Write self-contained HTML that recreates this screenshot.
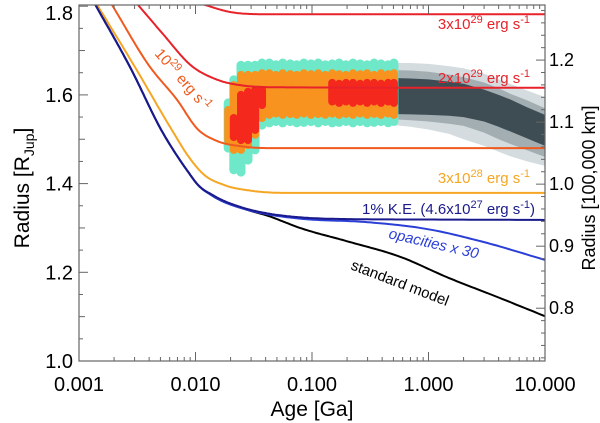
<!DOCTYPE html>
<html><head><meta charset="utf-8"><style>
html,body{margin:0;padding:0;background:#fff;}
svg{display:block;font-family:"Liberation Sans",sans-serif;}
</style></head><body>
<svg id="chart" width="600" height="423" viewBox="0 0 600 423" xmlns="http://www.w3.org/2000/svg">
<g id="bands"></g>
<g id="curves"></g>
<g id="axes"></g>
<g id="labels">
  <text x="530" y="29" text-anchor="end" fill="#e8222a" font-size="15">3x10<tspan dy="-6" font-size="11">29</tspan><tspan dy="6"> erg s</tspan><tspan dy="-6" font-size="11">-1</tspan></text>
  <text x="530" y="83" text-anchor="end" fill="#e8222a" font-size="15">2x10<tspan dy="-6" font-size="11">29</tspan><tspan dy="6"> erg s</tspan><tspan dy="-6" font-size="11">-1</tspan></text>
  <text x="530" y="183" text-anchor="end" fill="#f6a623" font-size="15">3x10<tspan dy="-6" font-size="11">28</tspan><tspan dy="6"> erg s</tspan><tspan dy="-6" font-size="11">-1</tspan></text>
  <text x="535" y="214" text-anchor="end" fill="#1a1a8c" font-size="15">1% K.E. (4.6x10<tspan dy="-6" font-size="11">27</tspan><tspan dy="6"> erg s</tspan><tspan dy="-6" font-size="11">-1</tspan><tspan dy="6">)</tspan></text>
  <text x="0" y="0" fill="#2b3fd6" font-size="15" font-style="italic" transform="translate(388,238) rotate(13)">opacities x 30</text>
  <text x="0" y="0" fill="#000" font-size="15" transform="translate(350,269) rotate(21)">standard model</text>
  <text x="0" y="0" fill="#f05a1e" font-size="15" transform="translate(154,54) rotate(49)">10<tspan dy="-6" font-size="11">29</tspan><tspan dy="6"> erg s</tspan><tspan dy="-6" font-size="11">-1</tspan></text>
</g>
<text x="312" y="416" text-anchor="middle" font-size="21">Age [Ga]</text>
<text transform="translate(29,188) rotate(-90)" text-anchor="middle" font-size="21">Radius [R<tspan dy="5" font-size="14">Jup</tspan><tspan dy="-5">]</tspan></text>
<text transform="translate(595,188) rotate(-90)" text-anchor="middle" font-size="18">Radius [100,000 km]</text>
</svg>
<script>
// ---- data ----
const stdAges = [0.00137,0.00274,0.00526,0.00846,0.0105,0.0141,0.0277,0.0411,0.0789,0.2,0.57,1.5,4.1,10];
const stdR    = [1.805,1.663,1.514,1.430,1.397,1.372,1.341,1.328,1.300,1.270,1.235,1.187,1.142,1.101];
const keAges  = [0.00137,0.00274,0.00526,0.00846,0.0105,0.0141,0.0277,0.0411,0.0789,0.2,1,10];
const keR     = [1.805,1.663,1.514,1.430,1.397,1.374,1.343,1.333,1.324,1.320,1.319,1.318];
const opAges  = [0.00137,0.00274,0.00526,0.00846,0.0105,0.0141,0.0277,0.0411,0.0789,0.3,1,3,10];
const opR     = [1.805,1.663,1.514,1.430,1.397,1.372,1.341,1.331,1.321,1.313,1.297,1.268,1.228];
const e28Ages = [0.00143,0.00302,0.0063,0.0085,0.0115,0.018,0.03,0.06,10];
const e28R    = [1.803,1.663,1.520,1.465,1.423,1.396,1.384,1.379,1.379];
const e29Ages = [0.00192,0.00407,0.00694,0.0105,0.015,0.025,0.045,10];
const e29R    = [1.803,1.663,1.589,1.522,1.497,1.484,1.480,1.480];
const e29bAges= [0.00321,0.00515,0.0095,0.0141,0.024,0.06,10];
const e29bR   = [1.803,1.740,1.663,1.638,1.622,1.617,1.616];
const e29cAges= [0.0113,0.0198,0.038,10];
const e29cR   = [1.805,1.787,1.782,1.782];

const colAges  = [0.0191,0.0213,0.0246,0.0282,0.0325,0.0372,0.043,0.049,0.056,0.065,0.074,0.085,0.098,0.113,0.130,0.149,0.171,0.196,0.225,0.259,0.297,0.341,0.391,0.45,0.505];
const cyanHi   = [1.582,1.634,1.667,1.667,1.667,1.672,1.672,1.668,1.672,1.670,1.668,1.672,1.670,1.672,1.668,1.670,1.672,1.668,1.672,1.670,1.668,1.672,1.670,1.668,1.672];
const cyanLo   = [1.480,1.431,1.426,1.453,1.476,1.532,1.537,1.540,1.537,1.540,1.537,1.538,1.540,1.537,1.540,1.537,1.538,1.540,1.537,1.540,1.537,1.538,1.540,1.537,1.540];
const orHi     = [1.566,1.622,1.645,1.645,1.645,1.649,1.649,1.645,1.649,1.647,1.645,1.649,1.647,1.649,1.645,1.649,1.647,1.645,1.649,1.647,1.649,1.645,1.649,1.647,1.649];
const orLo     = [1.498,1.476,1.476,1.487,1.510,1.548,1.555,1.558,1.555,1.557,1.555,1.558,1.555,1.557,1.555,1.558,1.555,1.557,1.555,1.558,1.555,1.557,1.555,1.558,1.555];
const redHi    = [null,1.548,1.600,1.607,1.611,1.611,null,null,null,null,null,null,null,null,null,1.627,1.625,1.627,1.627,1.625,1.627,1.627,1.625,1.627,1.627];
const redLo    = [null,1.505,1.498,1.498,1.521,1.577,null,null,null,null,null,null,null,null,null,1.585,1.582,1.585,1.582,1.585,1.582,1.585,1.582,1.585,1.582];

const greyAges = [0.5,0.7,1,1.5,2,3,4,5,7,10];
const lightHi  = [1.672,1.672,1.670,1.665,1.660,1.648,1.635,1.625,1.610,1.595];
const lightLo  = [1.532,1.528,1.522,1.512,1.500,1.485,1.472,1.462,1.450,1.440];
const midHi    = [1.656,1.655,1.652,1.646,1.640,1.628,1.615,1.603,1.588,1.570];
const midLo    = [1.545,1.543,1.540,1.535,1.530,1.515,1.500,1.490,1.475,1.460];
const darkHi   = [1.638,1.637,1.635,1.630,1.625,1.612,1.600,1.590,1.572,1.555];
const darkLo   = [1.557,1.556,1.555,1.553,1.550,1.540,1.528,1.518,1.502,1.485];

const yTicksLeft  = ["1.0","1.2","1.4","1.6","1.8"];
const yTicksRight = ["0.8","0.9","1.0","1.1","1.2"];
const xTicks      = ["0.001","0.010","0.100","1.000","10.000"];

// ---- axes functions ----
const X0=79, X1=545, Y0=5, Y1=361;
const xs = a => X0 + (Math.log10(a)+3)*(X1-X0)/4;
const ys = r => Y1 - (r-1)*(Y1-Y0)/0.8027;
const NS="http://www.w3.org/2000/svg";
function mk(tag, attrs, parent){const e=document.createElementNS(NS,tag);for(const k in attrs)e.setAttribute(k,attrs[k]);parent.appendChild(e);return e;}

const defs=mk('defs',{},document.getElementById('chart'));
const cp=mk('clipPath',{id:'plotclip'},defs);
mk('rect',{x:X0,y:Y0,width:X1-X0,height:Y1-Y0},cp);
document.getElementById('bands').setAttribute('clip-path','url(#plotclip)');
document.getElementById('curves').setAttribute('clip-path','url(#plotclip)');

// bands
const bands=document.getElementById('bands');
function areaPath(ages,hi,lo){
  let d='';
  ages.forEach((a,i)=>{d+=(i?'L':'M')+xs(a).toFixed(1)+','+ys(hi[i]).toFixed(1);});
  for(let i=ages.length-1;i>=0;i--) d+='L'+xs(ages[i]).toFixed(1)+','+ys(lo[i]).toFixed(1);
  return d+'Z';
}
[[lightHi,lightLo,'#d5dcdf','grey-light'],[midHi,midLo,'#a3aeb3','grey-mid'],[darkHi,darkLo,'#3e4d54','grey-dark']].forEach(b=>{
  const p=mk('path',{d:areaPath(greyAges,b[0],b[1]),fill:b[2]},bands);
  
  
});
function column(a,hi,lo,fill,w,name){
  const x=xs(a), yt=ys(hi), yb=ys(lo);
  const r=mk('rect',{x:(x-w/2).toFixed(1),y:(yt-w/2).toFixed(1),width:w,height:(yb-yt+w).toFixed(1),rx:w/2,fill:fill},bands);
  
  
}
colAges.forEach((a,i)=>column(a,cyanHi[i],cyanLo[i],'#6ee8c8',9,'cyan-column'));
colAges.forEach((a,i)=>column(a,orHi[i],orLo[i],'#f7931e',8,'orange-column'));
colAges.forEach((a,i)=>{ if(redHi[i]!==null) column(a,redHi[i],redLo[i],'#f5281e',8,'red-column'); });

// curves (monotone cubic in log-age)
function curvePath(ages,R){
  const xsArr=ages.map(a=>Math.log10(a)), n=xsArr.length;
  const h=[],m=[];
  for(let i=0;i<n-1;i++){h.push(xsArr[i+1]-xsArr[i]);m.push((R[i+1]-R[i])/h[i]);}
  const t=[m[0]];
  for(let i=1;i<n-1;i++){ t.push(m[i-1]*m[i]<=0?0:(m[i-1]*h[i]+m[i]*h[i-1])/(h[i]+h[i-1])); }
  t.push(m[n-2]);
  for(let i=0;i<n-1;i++){ if(m[i]===0){t[i]=0;t[i+1]=0;continue;} const a=t[i]/m[i],b=t[i+1]/m[i],s=a*a+b*b; if(s>9){const k=3/Math.sqrt(s);t[i]=k*a*m[i];t[i+1]=k*b*m[i];} }
  let d='';
  for(let i=0;i<n-1;i++){
    for(let j=0;j<=20;j++){
      if(i>0&&j===0)continue;
      const s=j/20, hh=h[i];
      const h00=2*s*s*s-3*s*s+1,h10=s*s*s-2*s*s+s,h01=-2*s*s*s+3*s*s,h11=s*s*s-s*s;
      const r=h00*R[i]+h10*hh*t[i]+h01*R[i+1]+h11*hh*t[i+1];
      const lx=xsArr[i]+s*hh;
      const px=X0+(lx+3)*(X1-X0)/4;
      d+=(d?'L':'M')+px.toFixed(1)+','+ys(r).toFixed(1);
    }
  }
  return d;
}
const curves=document.getElementById('curves');
[[e29cAges,e29cR,'#e8222a','curve-3e29'],[e29bAges,e29bR,'#e8222a','curve-2e29'],[e29Ages,e29R,'#f05a1e','curve-1e29'],[e28Ages,e28R,'#f6a623','curve-3e28'],
 [stdAges,stdR,'#000000','curve-standard-model'],[opAges,opR,'#2b3fd6','curve-opacities-x30'],[keAges,keR,'#1a1a8c','curve-1pct-ke']].forEach(c=>{
  const p=mk('path',{d:curvePath(c[0],c[1]),fill:'none',stroke:c[2],'stroke-width':2},curves);
  
  
});

// axes
const ax=document.getElementById('axes');
mk('rect',{x:X0,y:Y0,width:X1-X0,height:Y1-Y0,fill:'none',stroke:'#666','stroke-width':1.2},ax);
for(let k=0;k<=16;k++){
  const r=1+k*0.05, y=ys(r), L=(k%4===0)?9:(k%2===0?6:4);
  mk('line',{x1:X0,y1:y,x2:X0+L,y2:y,stroke:'#666','stroke-width':1},ax);
}
yTicksLeft.forEach(lbl=>{
  const t=mk('text',{x:X0-6,y:Math.max(ys(parseFloat(lbl))+7,20),'text-anchor':'end','font-size':20},ax);
  t.textContent=lbl;
  
  
});
for(let k=36;k<=64;k++){
  const km=k*0.02, r=km/0.71492; if(r<1||r>1.803) continue;
  const y=ys(r), L=(k%5===0)?9:4;
  mk('line',{x1:X1,y1:y,x2:X1-L,y2:y,stroke:'#666','stroke-width':1},ax);
}
yTicksRight.forEach(lbl=>{
  const t=mk('text',{x:X1+4,y:ys(parseFloat(lbl)/0.71492)+6,'font-size':18},ax);
  t.textContent=lbl;
  
  
});
for(let d=-3;d<1;d++){
  for(let m=1;m<=9;m++){
    const x=xs(m*Math.pow(10,d)), L=m===1?9:4;
    mk('line',{x1:x,y1:Y1,x2:x,y2:Y1-L,stroke:'#666','stroke-width':1},ax);
    mk('line',{x1:x,y1:Y0,x2:x,y2:Y0+L,stroke:'#666','stroke-width':1},ax);
  }
}
xTicks.forEach(lbl=>{
  const t=mk('text',{x:xs(parseFloat(lbl)),y:391,'text-anchor':'middle','font-size':20},ax);
  t.textContent=lbl;
  
  
});
</script>
</body></html>
